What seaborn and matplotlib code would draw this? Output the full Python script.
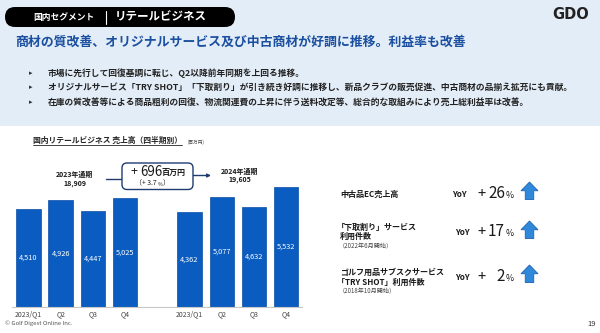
import numpy as np
import pandas as pd
import matplotlib
matplotlib.use("Agg")
import matplotlib.pyplot as plt
from matplotlib.patches import FancyBboxPatch, Rectangle, Polygon, FancyArrowPatch
from matplotlib.lines import Line2D
import seaborn as sns

# ---------------- data ----------------
periods_2023 = ["FY2023 Q1", "FY2023 Q2", "FY2023 Q3", "FY2023 Q4"]
periods_2024 = ["FY2024 Q1", "FY2024 Q2", "FY2024 Q3", "FY2024 Q4"]
sales_2023 = [4510, 4926, 4447, 5025]
sales_2024 = [4362, 5077, 4632, 5532]
tick_labels_2023 = ["2023/Q1", "Q2", "Q3", "Q4"]
tick_labels_2024 = ["2023/Q1", "Q2", "Q3", "Q4"]
fy_labels = ["2023年通期", "2024年通期"]
fy_totals = [18909, 19605]
diff_amount = 696
diff_pct = 3.7
kpi_names = [["中古品EC売上高"],
             ["「下取割り」サービス", "利用件数"],
             ["ゴルフ用品サブスクサービス", "「TRY SHOT」利用件数"]]
kpi_notes = ["", "（2022年6月開始）", "（2018年10月開始）"]
kpi_yoy = [26, 17, 2]

segment_label = "国内セグメント"
business_label = "リテールビジネス"
headline = "商材の質改善、オリジナルサービス及び中古商材が好調に推移。利益率も改善"
bullets = [
    "市場に先行して回復基調に転じ、Q2以降前年同期を上回る推移。",
    "オリジナルサービス「TRY SHOT」「下取割り」が引き続き好調に推移し、新品クラブの販売促進、中古商材の品揃え拡充にも貢献。",
    "在庫の質改善等による商品粗利の回復、物流関連費の上昇に伴う送料改定等、総合的な取組みにより売上総利益率は改善。",
]
chart_title = "国内リテールビジネス 売上高（四半期別）"
unit_label = "(百万円)"

# ---------------- style ----------------
sns.set_theme(style="white")
plt.rcParams["font.family"] = ["Noto Sans CJK JP", "DejaVu Sans"]

BAND = "#e3edf7"
HEAD_BLUE = "#1b4f9f"
BAR_BLUE = "#0b5cc0"
ARROW_BLUE = "#2f88da"
NAVY = "#1f3b70"
TXT = "#1a1a1a"

W, H = 600, 333
fig = plt.figure(figsize=(6, 3.33), dpi=100, facecolor="white")


def fx(x):
    return x / W


def fy(y):
    return 1 - y / H


def P(x, y):
    return (x / 100.0, (H - y) / 100.0)


def txt(x, y, s, **kw):
    kw.setdefault("va", "center")
    kw.setdefault("ha", "left")
    kw.setdefault("color", TXT)
    return fig.text(fx(x), fy(y), s, **kw)


tr = fig.dpi_scale_trans

# top band
fig.add_artist(Rectangle(P(0, 126), 6.0, 1.26, transform=tr, facecolor=BAND,
                         edgecolor="none", zorder=0))

# pill
x0, y0 = P(5, 27)
fig.add_artist(FancyBboxPatch((x0, y0), 2.30, 0.20,
                              boxstyle="round,pad=0,rounding_size=0.1",
                              transform=tr, facecolor="black", edgecolor="none",
                              zorder=1))
txt(33, 17.5, segment_label, color="white", fontsize=6.3, fontweight="bold")
fig.add_artist(Line2D([P(106, 11)[0], P(106, 11)[0]], [P(106, 11)[1], P(106, 24)[1]],
                      transform=tr, color="white", lw=0.8))
txt(115, 17, business_label, color="white", fontsize=8.3, fontweight="bold")

# logo
txt(552, 14.5, "GDO", fontsize=10.5, fontweight="bold", color="#222222",
    family=["DejaVu Sans"])

# headline
txt(15, 42, headline, color=HEAD_BLUE, fontsize=9.3, fontweight="bold")

# bullets
for i, b in enumerate(bullets):
    yy = 73 + 14.5 * i
    txt(29, yy, "▸", fontsize=5, family=["DejaVu Sans"], color="#333333")
    txt(48, yy, b, fontsize=6.3, fontweight="bold", color="#222222")

# chart title
txt(33, 140.5, chart_title, fontsize=5.6, fontweight="bold", color="#222222")
fig.add_artist(Line2D([P(33, 0)[0], P(182, 0)[0]], [P(0, 145)[1], P(0, 145)[1]],
                      transform=tr, color="#222222", lw=0.6))
txt(188, 142, unit_label, fontsize=3.3, color="#444444")

# ---------------- bar chart ----------------
df = pd.DataFrame({
    "period": periods_2023 + periods_2024,
    "sales": sales_2023 + sales_2024,
})
order = periods_2023 + ["gap"] + periods_2024

ax = fig.add_axes([12.4 / W, 26 / H, 289.9 / W, 130.15 / H])
ax.set_facecolor("none")
sns.barplot(data=df, x="period", y="sales", order=order, color=BAR_BLUE,
            saturation=1, width=0.76, edgecolor="#0a4ea6", linewidth=0.5, ax=ax)
ax.set_xlim(-0.5, 8.5)
ax.set_ylim(0, 6000)
for c in ax.containers:
    hs = [r.get_height() for r in c]
    labs = [f"{h:,.0f}" if np.isfinite(h) and h > 0 else "" for h in hs]
    ax.bar_label(c, labels=labs, label_type="center", color="white", fontsize=5.3)
ax.set_xticks(range(len(order)))
ax.set_xticklabels(tick_labels_2023 + [""] + tick_labels_2024, fontsize=5, color="#444444")
ax.tick_params(axis="x", length=0, pad=2.5)
ax.set_yticks([])
ax.set_xlabel("")
ax.set_ylabel("")
for s in ["top", "right", "left"]:
    ax.spines[s].set_visible(False)
ax.spines["bottom"].set_color("#c8c8c8")
ax.spines["bottom"].set_linewidth(0.8)

# FY annotations
txt(75, 174, fy_labels[0], ha="center", fontsize=5, fontweight="bold")
txt(75, 183, f"{fy_totals[0]:,}", ha="center", fontsize=5, fontweight="bold")
txt(240, 171.5, fy_labels[1], ha="center", fontsize=5, fontweight="bold")
txt(240, 179.5, f"{fy_totals[1]:,}", ha="center", fontsize=5, fontweight="bold")

fig.add_artist(Line2D([P(106, 0)[0], P(122, 0)[0]], [P(0, 179)[1], P(0, 179)[1]],
                      transform=tr, color=NAVY, lw=1.0))
bx, by = P(122, 189.5)
fig.add_artist(FancyBboxPatch((bx, by), 0.71, 0.265,
                              boxstyle="round,pad=0,rounding_size=0.05",
                              transform=tr, facecolor="white", edgecolor=NAVY,
                              linewidth=1.0, zorder=2))
txt(131, 172, "+", fontsize=9, zorder=3)
txt(140, 171.5, f"{diff_amount}", fontsize=9.6, zorder=3)
txt(162, 172.5, "百万円", fontsize=5.8, fontweight="bold", zorder=3)
txt(157, 183.5, f"（+ {diff_pct}", ha="right", fontsize=5, zorder=3)
txt(157.5, 184, "%", fontsize=3.6, zorder=3)
txt(163, 183.5, "）", fontsize=5, zorder=3)
fig.add_artist(FancyArrowPatch(P(193, 175.5), P(211, 175.5), transform=tr,
                               arrowstyle="-|>", mutation_scale=5, color=NAVY,
                               lw=1.0, shrinkA=0, shrinkB=0))

# ---------------- KPI block ----------------
kpi_y = [194, 232, 277]   # centre of YoY row
name_y = [[194], [227, 236.5], [272, 282]]
note_y = [None, 246.5, 291.5]
for i in range(3):
    for s, yy in zip(kpi_names[i], name_y[i]):
        xs = 337 if s.startswith("「") else 340
        txt(xs, yy, s, fontsize=5.8, fontweight="bold")
    if kpi_notes[i]:
        txt(339, note_y[i], kpi_notes[i], fontsize=4.4, color="#444444")
    yy = kpi_y[i]
    yoy_x = 452 if i == 0 else 455
    txt(yoy_x, yy + 0.5, "YoY", fontsize=5.9, fontweight="bold")
    txt(482, yy, "+", fontsize=10.5, ha="center")
    val = f"{kpi_yoy[i]}"
    vx = 505
    txt(vx, yy - 0.5, val, fontsize=11, ha="right")
    txt(vx + 1, yy + 1.5, "%", fontsize=6.3)
    # up arrow icon
    top = [182, 221, 265][i]
    bot = top + 17.5
    l, r = 521, 538
    mid = (l + r) / 2
    w = r - l
    hy = top + 0.5 * (bot - top)
    pts = [P(mid, top), P(r, hy), P(r - 0.25 * w, hy), P(r - 0.25 * w, bot),
           P(l + 0.25 * w, bot), P(l + 0.25 * w, hy), P(l, hy)]
    fig.add_artist(Polygon(pts, closed=True, transform=tr, facecolor=ARROW_BLUE,
                           edgecolor="#1d62b4", linewidth=0.6))

# footer
txt(5, 323.5, "© Golf Digest Online Inc.", fontsize=4.3, color="#555555")
txt(587, 324, "19", fontsize=5.5, color="#333333")

fig.savefig("out.png", dpi=100, facecolor="white")
